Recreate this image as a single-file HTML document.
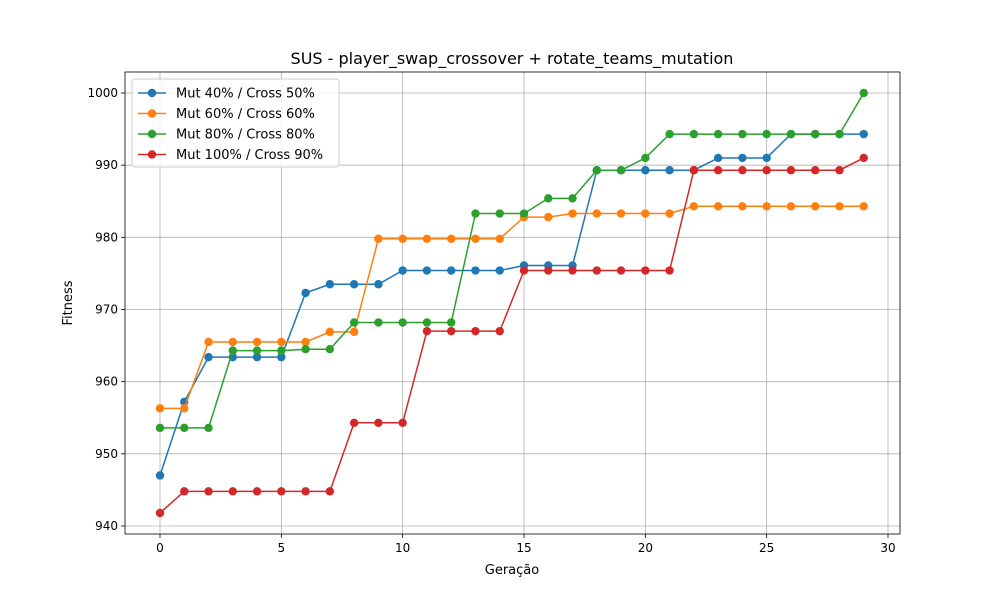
<!DOCTYPE html>
<html><head><meta charset="utf-8"><style>
body{margin:0;background:#fff;font-family:"Liberation Sans","DejaVu Sans",sans-serif}
text{font-family:"DejaVu Sans","Liberation Sans",sans-serif}
</style></head><body>
<svg id="chart" width="1000" height="600" xmlns="http://www.w3.org/2000/svg"></svg>
<script>
const generations=[...Array(30).keys()];
const seriesNames=["Mut 40% / Cross 50%","Mut 60% / Cross 60%","Mut 80% / Cross 80%","Mut 100% / Cross 90%"];
const mut40=[947,957.2,963.4,963.4,963.4,963.4,972.3,973.5,973.5,973.5,975.4,975.4,975.4,975.4,975.4,976.1,976.1,976.1,989.3,989.3,989.3,989.3,989.3,991,991,991,994.3,994.3,994.3,994.3];
const mut60=[956.3,956.3,965.5,965.5,965.5,965.5,965.5,966.9,966.9,979.8,979.8,979.8,979.8,979.8,979.8,982.8,982.8,983.3,983.3,983.3,983.3,983.3,984.3,984.3,984.3,984.3,984.3,984.3,984.3,984.3];
const mut80=[953.6,953.6,953.6,964.3,964.3,964.3,964.5,964.5,968.2,968.2,968.2,968.2,968.2,983.3,983.3,983.3,985.4,985.4,989.3,989.3,991,994.3,994.3,994.3,994.3,994.3,994.3,994.3,994.3,1000];
const mut100=[941.8,944.8,944.8,944.8,944.8,944.8,944.8,944.8,954.3,954.3,954.3,967,967,967,967,975.4,975.4,975.4,975.4,975.4,975.4,975.4,989.3,989.3,989.3,989.3,989.3,989.3,989.3,991];
const xTicks=[0,5,10,15,20,25,30];
const yTicks=[940,950,960,970,980,990,1000];
const colors=["#1f77b4","#ff7f0e","#2ca02c","#d62728"];
const L=125,R=900,T=72,B=534;
const xS=v=>160+v*(888-160)/30;
const yS=v=>526-(v-940)*(526-93)/60;
const svg=document.getElementById('chart');
const NS="http://www.w3.org/2000/svg";
function mk(tag,attrs,parent){const e=document.createElementNS(NS,tag);for(const k in attrs)e.setAttribute(k,attrs[k]);(parent||svg).appendChild(e);return e;}
const grid=mk('g',{});


xTicks.forEach(t=>{const x=xS(t);
mk('line',{x1:x,x2:x,y1:T,y2:B,stroke:'#b0b0b0','stroke-width':0.8},grid);
mk('line',{x1:x,x2:x,y1:B,y2:B+4,stroke:'#000','stroke-width':0.8});
const tx=mk('text',{x:x,y:B+18,'text-anchor':'middle','font-size':12});tx.textContent=t;

});
yTicks.forEach(t=>{const y=yS(t);
mk('line',{x1:L,x2:R,y1:y,y2:y,stroke:'#b0b0b0','stroke-width':0.8},grid);
mk('line',{x1:L-4,x2:L,y1:y,y2:y,stroke:'#000','stroke-width':0.8});
const tx=mk('text',{x:L-7,y:y+4,'text-anchor':'end','font-size':12});tx.textContent=t;

});
[mut40,mut60,mut80,mut100].forEach((s,i)=>{
const g=mk('g',{});


mk('polyline',{points:s.map((v,j)=>xS(generations[j])+','+yS(v)).join(' '),fill:'none',stroke:colors[i],'stroke-width':1.5},g);
s.forEach((v,j)=>{const c=mk('circle',{cx:xS(generations[j]),cy:yS(v),r:4.2,fill:colors[i]},g);

});
});
const frame=mk('rect',{x:L,y:T,width:R-L,height:B-T,fill:'none',stroke:'#000','stroke-width':0.8});


const title=mk('text',{x:512,y:64,'text-anchor':'middle','font-size':16});title.textContent="SUS - player_swap_crossover + rotate_teams_mutation";


const xl=mk('text',{x:512,y:574,'text-anchor':'middle','font-size':13});xl.textContent="Geração";


const yl=mk('text',{x:72,y:303,'text-anchor':'middle','font-size':13,transform:'rotate(-90 72 303)'});yl.textContent="Fitness";


const lg=mk('g',{});


mk('rect',{x:132,y:79,width:207,height:88,rx:3,fill:'#fff','fill-opacity':0.8,stroke:'#ccc'},lg);
seriesNames.forEach((n,i)=>{const y=93+i*20.5;
const e=mk('g',{},lg);


mk('line',{x1:138,x2:166,y1:y,y2:y,stroke:colors[i],'stroke-width':1.5},e);
mk('circle',{cx:152,cy:y,r:4.2,fill:colors[i]},e);
const t=mk('text',{x:176,y:y+4.5,'font-size':13},e);t.textContent=n;});
</script>
</body></html>
